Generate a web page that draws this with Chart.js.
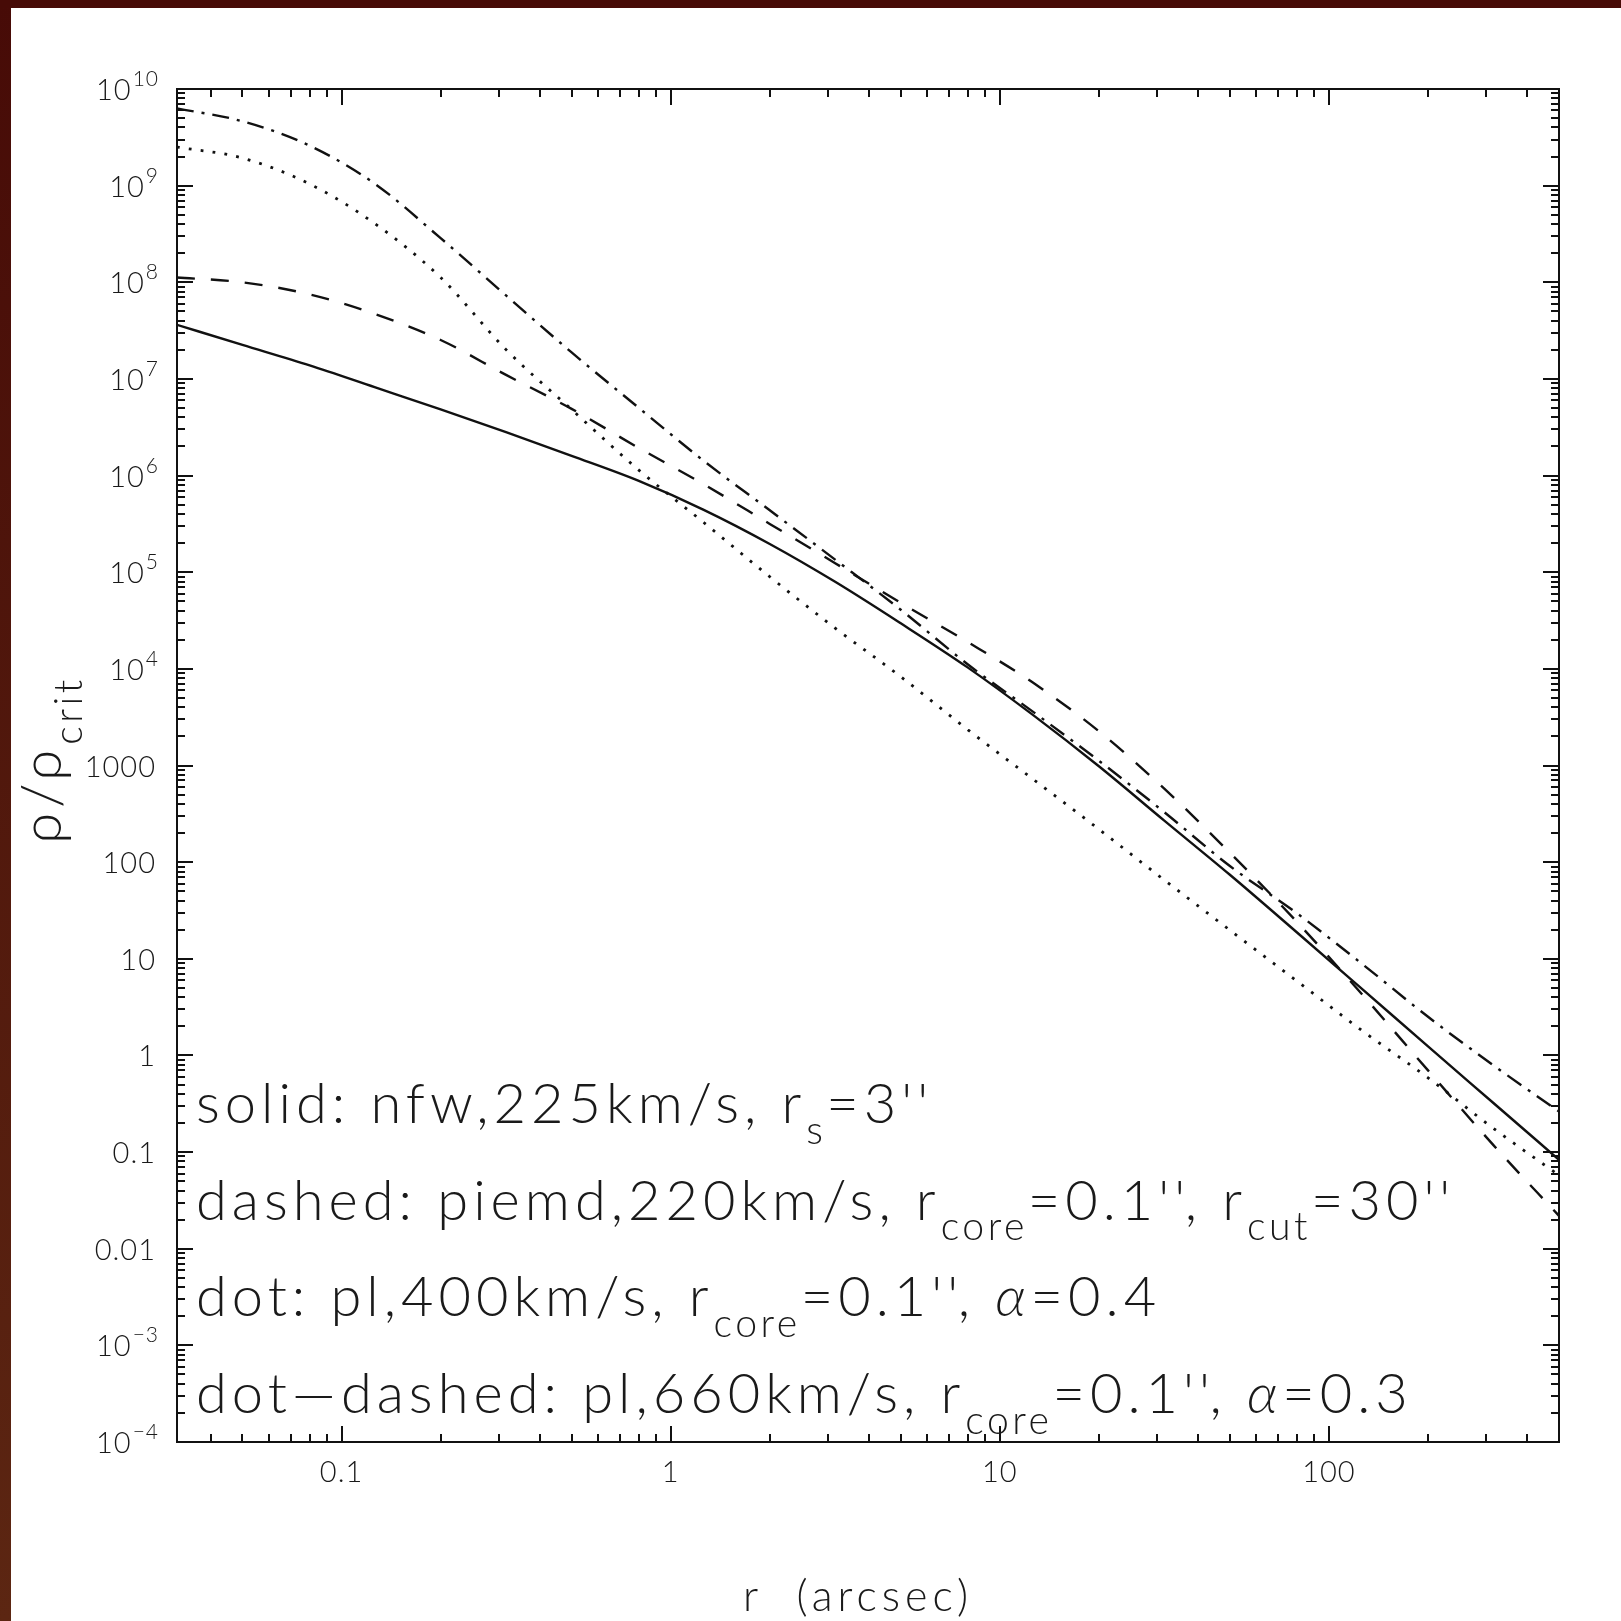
<!DOCTYPE html>
<html><head><meta charset="utf-8">
<script src="https://cdn.jsdelivr.net/npm/chart.js@4.4.1/dist/chart.umd.min.js"></script>
<style>
html,body{margin:0;padding:0;background:#fff;}
#wrap{position:relative;width:1621px;height:1621px;overflow:hidden;background:#fff;}
#stripL{position:absolute;left:0;top:0;width:11px;height:1621px;background:linear-gradient(#470b07,#5c2612);}
#stripT{position:absolute;left:0;top:0;width:1621px;height:8px;background:#470b07;}
canvas{position:absolute;left:0;top:0;}
</style></head>
<body><div id="wrap"><canvas id="c" width="1621" height="1621"></canvas><div id="stripL"></div><div id="stripT"></div></div>
<script>
// radius r (arcsec)
const radius = [0.0316, 0.05, 0.08, 0.126, 0.2, 0.316, 0.5, 0.8, 1.26, 2, 3.16, 5, 8, 12.6, 20, 31.6, 50, 80, 126, 200, 316, 500];
// rho / rho_crit
const nfwSolid = [3.63e7, 2.25e7, 1.38e7, 8.22e6, 4.85e6, 2.82e6, 1.60e6, 8.81e5, 4.42e5, 1.96e5, 7.96e4, 2.96e4, 1.03e4, 3.34e3, 982, 269, 74.0, 18.7, 4.88, 1.24, 0.322, 0.0832];
const piemdDashed = [1.12e8, 1.0e8, 7.5e7, 4.71e7, 2.53e7, 1.10e7, 4.90e6, 1.93e6, 8.13e5, 3.16e5, 1.24e5, 4.82e4, 1.89e4, 7.21e3, 2.26e3, 575, 125, 24.0, 4.3, 0.70, 0.118, 0.0219];
const pl400Dotted = [2.51e9, 1.93e9, 1.04e9, 4.06e8, 1.12e8, 2.01e7, 4.82e6, 1.14e6, 3.27e5, 8.97e4, 2.64e4, 8.30e3, 2.34e3, 724, 219, 65.3, 19.8, 5.87, 1.81, 0.587, 0.176, 0.0575];
const pl660DotDashed = [6.31e9, 4.63e9, 2.59e9, 1.05e9, 2.86e8, 7.31e7, 1.88e7, 5.02e6, 1.42e6, 4.37e5, 1.35e5, 4.09e4, 1.11e4, 3.61e3, 1.12e3, 329, 91.2, 29.5, 8.87, 2.51, 0.789, 0.263];

const xTickValues = [0.1, 1, 10, 100];
const xTickLabels = ["0.1", "1", "10", "100"];
const yTickValues = [1e10, 1e9, 1e8, 1e7, 1e6, 1e5, 1e4, 1e3, 100, 10, 1, 0.1, 0.01, 1e-3, 1e-4];
const yTickLabels = ["10^10", "10^9", "10^8", "10^7", "10^6", "10^5", "10^4", "1000", "100", "10", "1", "0.1", "0.01", "10^-3", "10^-4"];
const xTitle = "r  (arcsec)";
const yTitle = [{t: "ρ/ρ"}, {t: "crit", sub: true}];
const legendLines = [
  [{t: "solid: nfw,225km/s, r"}, {t: "s", sub: true}, {t: "=3''"}],
  [{t: "dashed: piemd,220km/s, r"}, {t: "core", sub: true}, {t: "=0.1'', r"}, {t: "cut", sub: true}, {t: "=30''"}],
  [{t: "dot: pl,400km/s, r"}, {t: "core", sub: true}, {t: "=0.1'', "}, {t: "α", it: true}, {t: "=0.4"}],
  [{t: "dot—dashed: pl,660km/s, r"}, {t: "core", sub: true}, {t: "=0.1'', "}, {t: "α", it: true}, {t: "=0.3"}]
];
const legendValues = [0.2, 0.02, 0.002, 0.0002];

const FONT = 'Lato, "Liberation Sans", Arial, sans-serif';
const WEIGHT = 300;
const INK = '#1a1a1a';

function setFont(ctx, size, italic, spacing) {
  ctx.font = (italic ? 'italic ' : '') + WEIGHT + ' ' + size + 'px ' + FONT;
  ctx.letterSpacing = spacing + 'px';
}
function richWidth(ctx, segs, size, spacing) {
  let w = 0;
  for (const s of segs) {
    setFont(ctx, s.sub ? size * 0.7 : size, s.it, s.sub ? spacing * 0.7 : spacing);
    w += ctx.measureText(s.t).width;
  }
  return w;
}
function drawRich(ctx, x, y, segs, size, spacing) {
  for (const s of segs) {
    const fs = s.sub ? size * 0.7 : size;
    setFont(ctx, fs, s.it, s.sub ? spacing * 0.7 : spacing);
    const dy = s.sub ? size * 0.37 : 0;
    ctx.fillText(s.t, x, y + dy);
    x += ctx.measureText(s.t).width;
  }
  return x;
}

const framePlugin = {
  id: 'frame',
  afterDraw(chart) {
    const ctx = chart.ctx;
    const a = chart.chartArea;
    const xs = chart.scales.x, ys = chart.scales.y;
    ctx.save();
    ctx.strokeStyle = '#111';
    ctx.lineWidth = 2;
    ctx.strokeRect(a.left, a.top, a.right - a.left, a.bottom - a.top);
    // ticks (inward, all four sides)
    ctx.beginPath();
    for (let d = -3; d <= 3; d++) {
      for (let m = 1; m <= 9; m++) {
        const v = m * Math.pow(10, d);
        if (v < xs.min * 0.999 || v > xs.max * 1.001) continue;
        const px = Math.round(xs.getPixelForValue(v));
        const len = m === 1 ? 16 : 8;
        ctx.moveTo(px, a.bottom); ctx.lineTo(px, a.bottom - len);
        ctx.moveTo(px, a.top); ctx.lineTo(px, a.top + len);
      }
    }
    for (let d = -4; d <= 10; d++) {
      for (let m = 1; m <= 9; m++) {
        const v = m * Math.pow(10, d);
        if (v < ys.min * 0.999 || v > ys.max * 1.001) continue;
        const py = Math.round(ys.getPixelForValue(v));
        const len = m === 1 ? 16 : 8;
        ctx.moveTo(a.left, py); ctx.lineTo(a.left + len, py);
        ctx.moveTo(a.right, py); ctx.lineTo(a.right - len, py);
      }
    }
    ctx.stroke();

    ctx.fillStyle = INK;
    // x tick labels
    ctx.textAlign = 'center';
    ctx.textBaseline = 'alphabetic';
    setFont(ctx, 29, false, 1);
    xTickValues.forEach((v, i) => {
      ctx.fillText(xTickLabels[i], xs.getPixelForValue(v), a.bottom + 40);
    });
    // y tick labels
    ctx.textAlign = 'left';
    const rightEdge = a.left - 21;
    yTickValues.forEach((v, i) => {
      const py = ys.getPixelForValue(v);
      const lab = yTickLabels[i];
      if (lab.indexOf('^') >= 0) {
        const [b, e] = lab.split('^');
        const exp = e.replace('-', '−');
        setFont(ctx, 29, false, 1);
        const w1 = ctx.measureText(b).width;
        setFont(ctx, 21, false, 1);
        const w2 = ctx.measureText(exp).width;
        const x0 = rightEdge + 3 - (w1 + w2 + 1);
        setFont(ctx, 29, false, 1);
        ctx.fillText(b, x0, py + 11);
        setFont(ctx, 21, false, 1);
        ctx.fillText(exp, x0 + w1 + 1, py - 3);
      } else {
        setFont(ctx, 29, false, 1);
        const w = ctx.measureText(lab).width;
        ctx.fillText(lab, rightEdge - w, py + 11);
      }
    });
    // legend text
    legendLines.forEach((segs, i) => {
      drawRich(ctx, a.left + 19, ys.getPixelForValue(legendValues[i]), segs, 56, 5);
    });
    // x title
    const wx = richWidth(ctx, [{t: xTitle}], 43, 5);
    drawRich(ctx, 858 - wx / 2, 1611, [{t: xTitle}], 43, 5);
    // y title
    const wy = richWidth(ctx, yTitle, 56, 5);
    ctx.translate(61, 760);
    ctx.rotate(-Math.PI / 2);
    drawRich(ctx, -wy / 2, 0, yTitle, 56, 5);
    ctx.restore();
  }
};

function series(vals, dash, width) {
  return {
    data: radius.map((r, i) => ({x: r, y: vals[i]})),
    borderColor: '#111',
    borderWidth: width,
    borderDash: dash,
    pointRadius: 0,
    fill: false,
    cubicInterpolationMode: 'monotone',
    borderCapStyle: 'butt'
  };
}

new Chart(document.getElementById('c'), {
  type: 'line',
  data: {
    datasets: [
      series(nfwSolid, [], 2.4),
      series(piemdDashed, [18, 16], 2.4),
      series(pl400Dotted, [2.8, 9.2], 2.8),
      series(pl660DotDashed, [17, 8, 3, 8], 2.4)
    ]
  },
  options: {
    responsive: false,
    devicePixelRatio: 1,
    animation: false,
    layout: {padding: {left: 177, top: 89, right: 62, bottom: 179}},
    plugins: {legend: {display: false}, tooltip: {enabled: false}},
    scales: {
      x: {type: 'logarithmic', min: 0.031623, max: 500, display: false},
      y: {type: 'logarithmic', min: 1e-4, max: 1e10, display: false}
    }
  },
  plugins: [framePlugin]
});
</script>
</body></html>
